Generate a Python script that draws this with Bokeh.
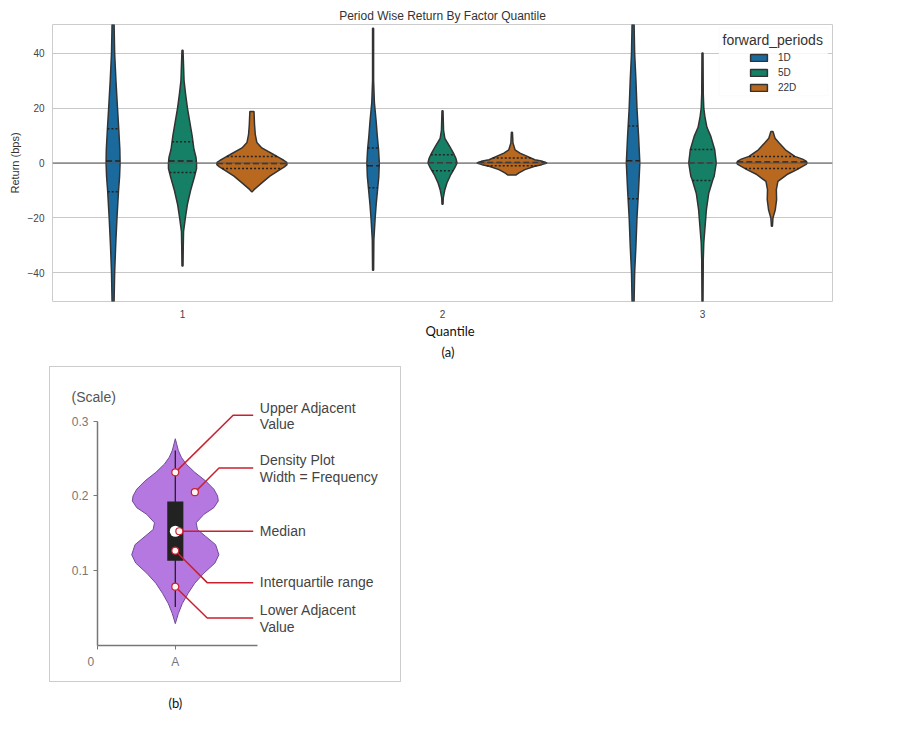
import numpy as np
from bokeh.core.properties import value
from bokeh.embed import file_html
from bokeh.layouts import column
from bokeh.models import BoxAnnotation, FixedTicker, Label, Legend, LegendItem, Range1d, Title
from bokeh.plotting import figure
from bokeh.resources import INLINE

quantiles = ["1", "2", "3"]
periods = ["1D", "5D", "22D"]
period_colors = ["#1a6a9e", "#158066", "#b9681f"]
period_offsets = [-0.267, 0, 0.267]

# return (bps) and half width of each violin
q1_1d_y = [60, 50, 40, 30, 20, 12, 5, 0, -5, -10, -20, -30, -40, -50, -60]
q1_1d_w = [.002, .004, .006, .011, .017, .022, .026, .027, .025, .021, .015, .010, .006, .004, .002]
q1_5d_y = [41, 30, 25, 20, 15, 10, 5, 2, 0, -2, -5, -10, -15, -20, -25, -30, -37.5]
q1_5d_w = [.002, .006, .012, .019, .028, .037, .044, .052, .054, .054, .046, .031, .019, .011, .004, .003, .002]
q1_22d_y = [18.7, 14, 10.3, 7.5, 5.5, 3, 1.8, 1, .2, -.6, -1.4, -2.4, -4.8, -7.3, -9.7, -10.5]
q1_22d_w = [.008, .010, .013, .019, .038, .085, .108, .122, .134, .135, .125, .108, .069, .037, .008, .001]
q2_1d_y = [49, 30, 22, 15, 10, 5, 0, -5, -10, -15, -20, -28, -39]
q2_1d_w = [.002, .002, .005, .012, .016, .021, .024, .022, .017, .012, .008, .003, .002]
q2_5d_y = [19, 12, 9, 6, 3.6, 1.8, 0, -1.8, -4.2, -7.3, -9.7, -12.7, -15]
q2_5d_w = [.002, .004, .009, .028, .042, .051, .056, .047, .032, .017, .009, .003, .002]
q2_22d_y = [11.2, 7.3, 4.8, 3.6, 1.2, .6, 0, -.6, -1.2, -2.4, -3.6, -4.4]
q2_22d_w = [.002, .004, .012, .031, .088, .118, .135, .115, .088, .05, .027, .015]
q3_1d_y = [60, 50, 40, 30, 20, 10, 0, -10, -20, -30, -40, -50, -60]
q3_1d_w = [.003, .004, .006, .011, .015, .021, .026, .021, .015, .011, .006, .004, .003]
q3_5d_y = [40, 25, 20, 17, 13, 9.7, 4.8, 0, -4.8, -6, -11, -17, -23, -29, -35, -50, -60]
q3_5d_w = [.002, .003, .005, .009, .017, .032, .047, .053, .045, .040, .024, .015, .010, .005, .003, .002, .002]
q3_22d_y = [11.5, 9, 7.3, 4.8, 2.4, 1.4, .8, .2, -.4, -1.2, -2.4, -4.2, -6.7, -9.7, -13.3, -17, -20, -23]
q3_22d_w = [.004, .012, .028, .052, .088, .118, .130, .135, .133, .118, .096, .058, .023, .017, .018, .013, .004, .002]

# upper quartile, median, lower quartile
q1_1d_q = [12.5, 0.7, -10.5]
q1_5d_q = [7.7, 0.7, -3.5]
q1_22d_q = [2.4, -0.2, -2]
q2_1d_q = [5.5, -1, -9]
q2_5d_q = [3, 0.1, -2.8]
q2_22d_q = [1.8, 0.2, -1]
q3_1d_q = [13.5, 0.8, -13]
q3_5d_q = [4.9, 0, -6.4]
q3_22d_q = [2.4, 0.4, -2]

violins = [
    [(q1_1d_y, q1_1d_w, q1_1d_q), (q1_5d_y, q1_5d_w, q1_5d_q), (q1_22d_y, q1_22d_w, q1_22d_q)],
    [(q2_1d_y, q2_1d_w, q2_1d_q), (q2_5d_y, q2_5d_w, q2_5d_q), (q2_22d_y, q2_22d_w, q2_22d_q)],
    [(q3_1d_y, q3_1d_w, q3_1d_q), (q3_5d_y, q3_5d_w, q3_5d_q), (q3_22d_y, q3_22d_w, q3_22d_q)],
]

# second panel, the explained violin
scale_y = [.2763, .2695, .2606, .2516, .2426, .2314, .2201, .2089, .1999, .1932, .1842, .1752,
           .1640, .1550, .1460, .1348, .1213, .1101, .0966, .0832, .0697, .0562, .0427, .0292]
scale_w = [0, .013, .03, .06, .107, .193, .30, .383, .42, .427, .383, .283,
           .207, .22, .30, .40, .433, .393, .283, .193, .127, .07, .03, 0]
whisker = [.0516, .2605]
box_low, box_high = .1132, .1923
median = .1527

note_lines = [
    ([0, .574, .774], [.2314, .3078, .3078]),
    ([.194, .434, .774], [.2049, .2372, .2372]),
    ([.04, .774], [.1527, .1527]),
    ([0, .317, .774], [.1267, .0840, .0840]),
    ([0, .317, .774], [.0786, .0368, .0368]),
]
note_texts = ["Upper Adjacent", "Value", "Density Plot", "Width = Frequency", "Median",
              "Interquartile range", "Lower Adjacent", "Value"]
note_y = [.318, .2965, .248, .225, .1536, .0849, .0472, .0243]


def caption(text, offset, standoff):
    return Title(text=text, align="left", offset=offset, standoff=standoff, text_font="Lato",
                 text_font_size="13px", text_font_style="normal", text_color="#111111")


p = figure(width=879, frame_width=783, frame_height=277, x_range=Range1d(-0.5, 2.5), y_range=Range1d(-50.4, 50.4),
           title="Period Wise Return By Factor Quantile", output_backend="svg", toolbar_location=None,
           min_border_left=44, min_border_right=46, min_border_top=16, min_border_bottom=0,
           margin=(0, 0, 0, -3))
p.title.align = "center"
p.title.text_font = "Liberation Sans"
p.title.text_font_size = "12px"
p.title.text_font_style = "normal"
p.title.text_color = "#333333"
p.title.standoff = 3
p.outline_line_color = "#cccccc"
p.xgrid.grid_line_color = None
p.ygrid.grid_line_color = "#c8c8c8"
p.ygrid.ticker = FixedTicker(ticks=[-40, -20, 0, 20, 40])
p.yaxis.ticker = FixedTicker(ticks=[-40, -20, 0, 20, 40])
p.xaxis.ticker = FixedTicker(ticks=[0, 1, 2])
p.xaxis.major_label_overrides = {i: q for i, q in enumerate(quantiles)}
for ax in [p.xaxis[0], p.yaxis[0]]:
    ax.axis_line_color = None
    ax.major_tick_line_color = None
    ax.minor_tick_line_color = None
    ax.major_tick_in = 0
    ax.major_tick_out = 0
    ax.minor_tick_in = 0
    ax.minor_tick_out = 0
    ax.major_label_text_font = "Liberation Sans"
    ax.major_label_text_font_size = "10px"
    ax.major_label_text_color = "#444444"
    ax.major_label_standoff = 8
p.yaxis.axis_label = "Return (bps)"
p.yaxis.axis_label_text_font = "Liberation Sans"
p.yaxis.axis_label_text_font_size = "11px"
p.yaxis.axis_label_text_font_style = "normal"
p.yaxis.axis_label_text_color = "#333333"
p.yaxis.axis_label_standoff = 4
p.add_layout(caption("Quantile", 373, 1), "below")
p.add_layout(caption("(a)", 389, 4), "below")

legend_rs = []
for i, group in enumerate(violins):
    for j, (ys, ws, qs) in enumerate(group):
        center = i + period_offsets[j]
        ys = np.array(ys, dtype=float)
        ws = np.array(ws, dtype=float)
        xs = np.concatenate([center - ws, (center + ws)[::-1]])
        yy = np.concatenate([ys, ys[::-1]])
        r = p.patch(xs, yy, fill_color=period_colors[j], line_color="#333333", line_width=1.5)
        if i == 0:
            legend_rs.append(r)
        # inner quartile lines run across the violin
        for k, q in enumerate(qs):
            w = np.interp(q, ys[::-1], ws[::-1])
            p.line([center - w, center + w], [q, q], line_color="#222222", line_width=1.5,
                   line_dash="6 3" if k == 1 else "2 2")

p.line([-0.5, 2.5], [0, 0], line_color="#555555", line_width=1)

p.add_layout(BoxAnnotation(left=2.063, right=2.482, top=49.2, bottom=24.5, fill_color="white",
                           fill_alpha=0.85, line_color="#f2f2f2"))
p.add_layout(Label(x=2.27, y=44.8, text="forward_periods", text_align="center", text_baseline="middle",
                   text_font="Liberation Sans", text_font_size="14px", text_color="#333333"))
legend = Legend(items=[LegendItem(label=n, renderers=[r]) for n, r in zip(periods, legend_rs)],
                location=(696, 208), padding=0, margin=0, spacing=4, glyph_width=21, glyph_height=9,
                label_height=9, label_standoff=9, border_line_color=None, background_fill_alpha=0,
                label_text_font="Liberation Sans", label_text_font_size="10px", label_text_color="#333333")
p.add_layout(legend)

b = figure(width=350, frame_width=303, frame_height=242, x_range=Range1d(-.773, 2.257), y_range=Range1d(0, .3261),
           title="(Scale)", output_backend="svg", toolbar_location=None, margin=(5, 0, 0, 41),
           min_border_left=47, min_border_right=0, min_border_top=34, min_border_bottom=38,
           styles={"border": "1px solid #cccccc"})
b.title.align = "left"
b.title.offset = -26
b.title.standoff = -7
b.title.text_font = "Liberation Sans"
b.title.text_font_size = "14px"
b.title.text_font_style = "normal"
b.title.text_color = "#555555"
b.outline_line_color = None
b.grid.grid_line_color = None
b.yaxis.ticker = FixedTicker(ticks=[.1, .2, .3])
b.yaxis.bounds = (0, .3)
b.xaxis.ticker = FixedTicker(ticks=[-.773, 0])
b.xaxis.major_label_overrides = {-.773: "0\u00a0\u00a0\u00a0\u00a0", 0: "A"}
b.xaxis.bounds = (-.773, .82)
for ax in [b.xaxis[0], b.yaxis[0]]:
    ax.axis_line_color = "#777777"
    ax.axis_line_width = 1.5
    ax.major_tick_line_color = "#777777"
    ax.major_tick_in = 0
    ax.major_tick_out = 4
    ax.minor_tick_line_color = None
    ax.major_label_text_font = "Liberation Sans"
    ax.major_label_text_font_size = "12px"
    ax.major_label_text_color = "#777777"
    ax.major_label_standoff = 5

sy = np.array(scale_y)
sw = np.array(scale_w)
b.patch(np.concatenate([-sw, sw[::-1]]), np.concatenate([sy, sy[::-1]]), fill_color="#b478e0",
        line_color="#6f4a96", line_width=1)
b.line([0, 0], whisker, line_color="#222222", line_width=1.3)
b.quad(left=[-.08], right=[.08], bottom=[box_low], top=[box_high], fill_color="#222222", line_color=None)
b.scatter([0], [median], size=11, fill_color="white", line_color=None)
for xs, ys in note_lines:
    b.line(xs, ys, line_color="#c8202f", line_width=1.5)
    b.scatter(xs[:1], ys[:1], size=7, fill_color="#fff5f5", line_color="#c8202f", line_width=1.2)
b.text([.84] * len(note_texts), note_y, text=note_texts, text_font=value("Liberation Sans"),
       text_font_size="14px", text_color="#444444", text_baseline="middle")

# caption of the second panel sits below its border
cap = figure(width=350, height=26, frame_width=340, frame_height=4, title="(b)", x_axis_type=None, y_axis_type=None,
             output_backend="svg", toolbar_location=None, margin=(10, 0, 0, 42), min_border=0)
cap.outline_line_color = None
cap.grid.grid_line_color = None
cap.title.align = "left"
cap.title.offset = 71
cap.title.standoff = 0
cap.title.text_font = "Lato"
cap.title.text_font_size = "13px"
cap.title.text_font_style = "normal"
cap.title.text_color = "#111111"

page = column(p, b, cap, spacing=0, margin=(5, 0, 0, 8))
open("out.html", "w").write(file_html(page, INLINE))
